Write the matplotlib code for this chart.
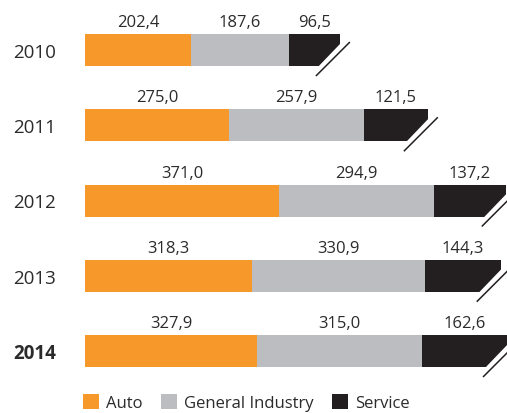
import matplotlib
matplotlib.use("Agg")
import matplotlib.pyplot as plt
from matplotlib.patches import Polygon, Patch

plt.rcParams["font.family"] = ["Open Sans", "DejaVu Sans"]

years = ["2010", "2011", "2012", "2013", "2014"]
auto = [202.4, 275.0, 371.0, 318.3, 327.9]
general = [187.6, 257.9, 294.9, 330.9, 315.0]
service = [96.5, 121.5, 137.2, 144.3, 162.6]

series_names = ["Auto", "General Industry", "Service"]
colors = ["#F7992A", "#BCBDC0", "#231F20"]
TEXT = "#2b2b2b"

W, H = 507, 414
fig = plt.figure(figsize=(W / 100, H / 100), dpi=100)
ax = fig.add_axes([85 / W, 0, 422 / W, 1])
ax.set_xlim(0, 805.5)
ax.set_ylim(4.824, -0.678)
ax.axis("off")

px_x = 805.5 / 422      # data units per pixel, horizontal
px_y = 1 / 75.25        # data units per pixel, vertical (downwards)
bar_h = 32 * px_y

for i, year in enumerate(years):
    left = 0
    for vals, col in zip([auto, general, service], colors):
        v = vals[i]
        ax.barh(i, v, left=left, height=bar_h, color=col, linewidth=0)
        ax.text(left + v / 2, i - bar_h / 2 - 8 * px_y, f"{v:.1f}".replace(".", ","),
                ha="center", va="baseline", fontsize=12, color=TEXT, clip_on=False)
        left += v

    # break mark at the bar end
    xe = left
    b = i + bar_h / 2
    cut = Polygon([(xe - 22 * px_x, b + 1 * px_y), (xe + 2 * px_x, b - 24 * px_y),
                   (xe + 2 * px_x, b + 2 * px_y)],
                  closed=True, facecolor="white", edgecolor="none", zorder=3,
                  clip_on=False)
    ax.add_patch(cut)
    g = 8
    ax.plot([xe + (-22 + g - 10) * px_x, xe + (-22 + g + 24) * px_x],
            [b + 10 * px_y, b - 24 * px_y],
            color="#231F20", lw=1.1, zorder=4, clip_on=False,
            solid_capstyle="butt")

    fig.text(13 / W, 1 - (51 + 75.25 * i + 7) / H, year, ha="left", va="baseline",
             fontsize=13.5, color=TEXT,
             fontweight="bold" if year == "2014" else "normal")

handles = [Patch(facecolor=c, edgecolor="none") for c in colors]
fig.legend(handles, series_names, loc="lower left",
           bbox_to_anchor=(81 / W, 0), ncol=3, frameon=False,
           fontsize=12, handlelength=0.95, handleheight=0.95,
           handletextpad=0.45, columnspacing=1.1, labelcolor=TEXT,
           borderpad=0.1, borderaxespad=0)

fig.savefig("out.png", dpi=100)
